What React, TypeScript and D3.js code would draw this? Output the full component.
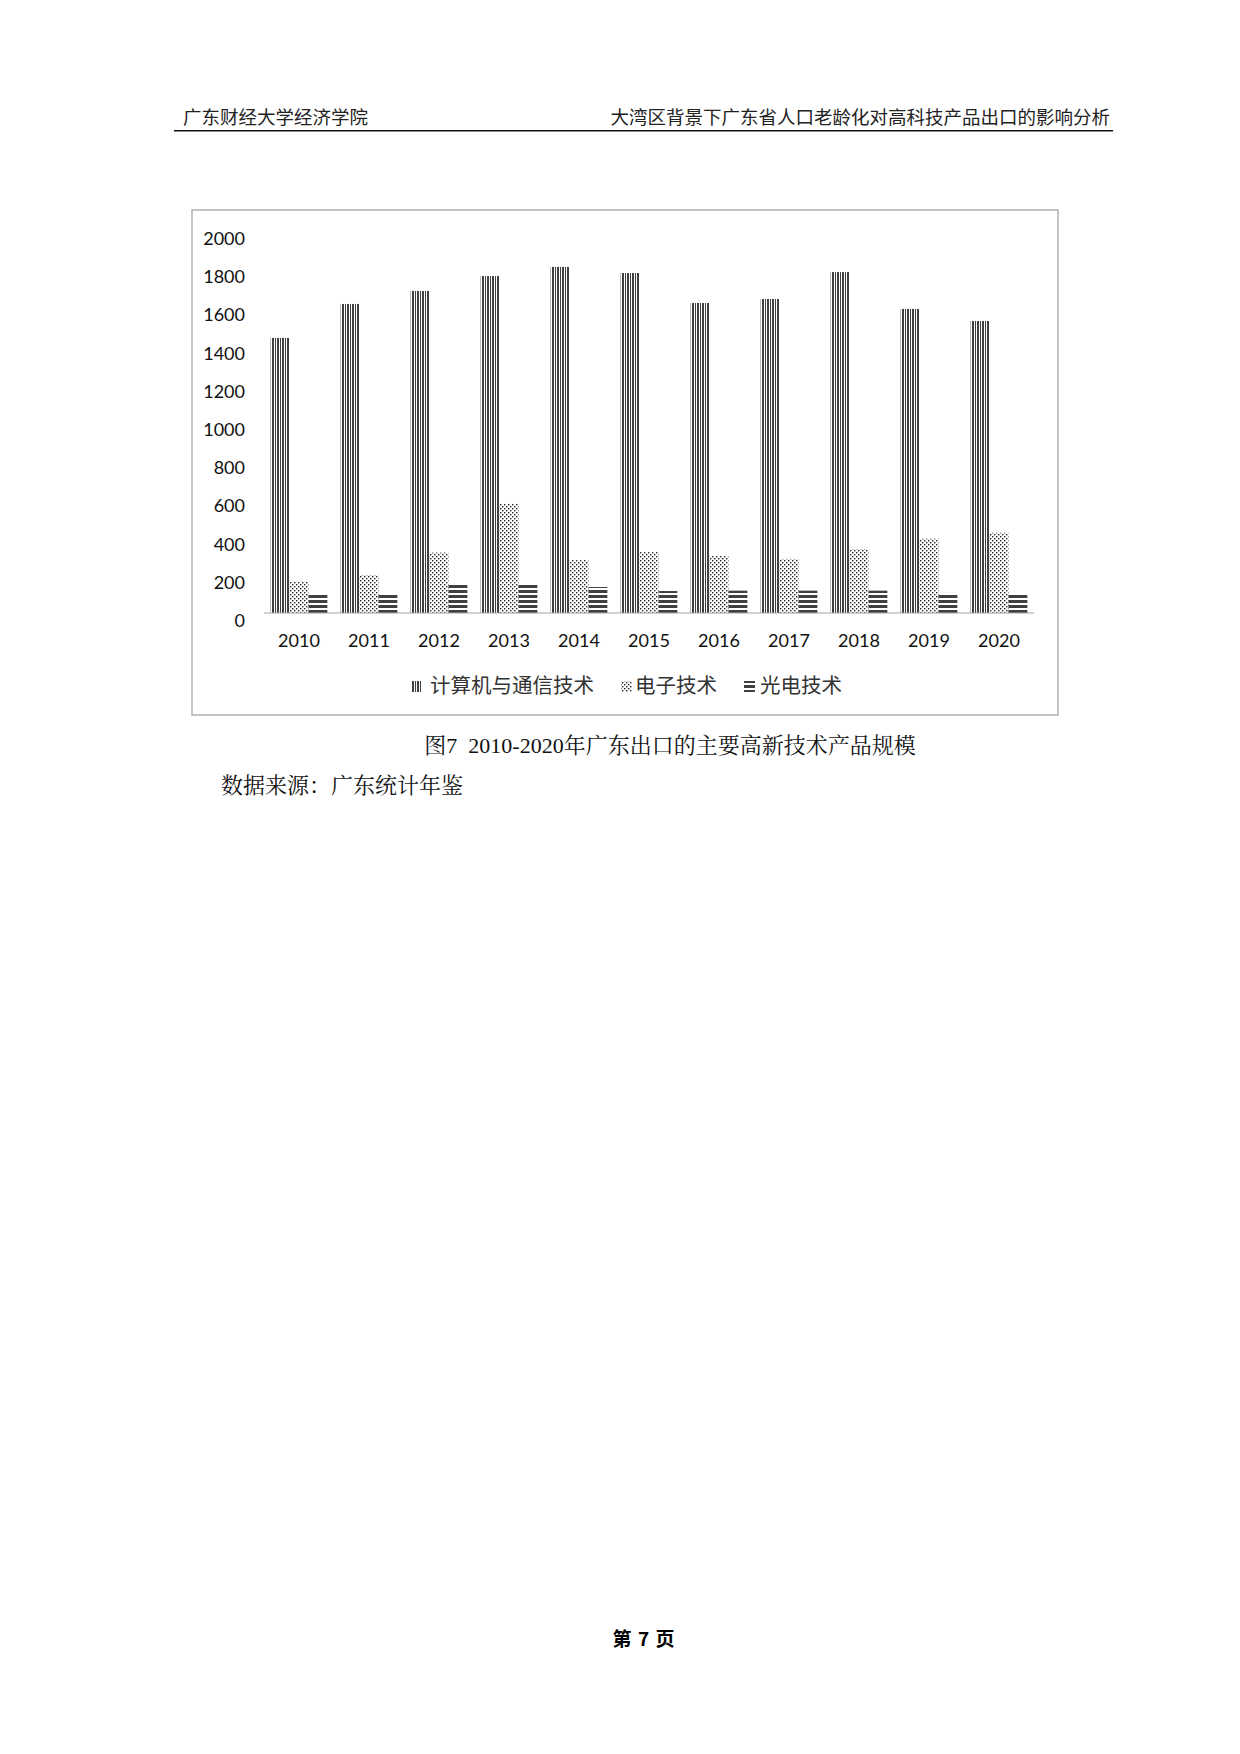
import React from 'react';
import * as d3 from 'd3';

// values (unit as in the source yearbook)
const years = ['2010', '2011', '2012', '2013', '2014', '2015', '2016', '2017', '2018', '2019', '2020'];
const computerComm = [1440, 1618, 1686, 1764, 1812, 1780, 1623, 1644, 1785, 1592, 1529];
const electronics = [164, 199, 316, 571, 277, 319, 298, 283, 334, 389, 420];
const optoelectronics = [99, 99, 148, 147, 136, 115, 117, 117, 117, 105, 99];
const seriesNames = ['计算机与通信技术', '电子技术', '光电技术'];

const headerLeft = '广东财经大学经济学院';
const headerRight = '大湾区背景下广东省人口老龄化对高科技产品出口的影响分析';
const caption = '图7 2010-2020年广东出口的主要高新技术产品规模';
const source = '数据来源：广东统计年鉴';
const pageNo = ['第', '7', '页'];

const W = 1240;
const H = 1754;
const INK = '#404040';
const CJK = "'Noto Sans CJK SC', 'Noto Sans', sans-serif";
const LATIN = "Lato, 'Noto Sans', sans-serif";
const SERIF = "'Liberation Serif', 'Noto Serif CJK SC', 'Noto Sans CJK SC', serif";

const App: React.FC = () => {
  const series = [computerComm, electronics, optoelectronics];
  const patterns = ['pat-vert', 'pat-dots', 'pat-horz'];

  const x = d3.scaleBand<string>()
    .domain(years)
    .range([264, 1034])
    .paddingInner(0.19)
    .paddingOuter(0.095);

  const xs = d3.scaleBand<number>()
    .domain([0, 1, 2])
    .range([0, x.bandwidth()]);

  const y = d3.scaleLinear().domain([0, 2000]).range([613, 231]);

  const legendItems = [
    { marker: 411, text: 430 },
    { marker: 621, text: 635 },
    { marker: 744, text: 760 },
  ];

  return (
    <svg width={W} height={H} style={{ position: 'absolute', left: 0, top: 0, background: '#fff' }}>
      <defs>
        <pattern id="pat-vert" patternUnits="userSpaceOnUse" width={5} height={4}>
          <rect x={0} y={0} width={1} height={4} fill={INK} shapeRendering="crispEdges" />
          <rect x={2} y={0} width={2} height={4} fill={INK} shapeRendering="crispEdges" />
        </pattern>
        <pattern id="pat-dots" patternUnits="userSpaceOnUse" width={4} height={4}>
          <rect x={0} y={0} width={1.4} height={1.4} fill="#222" />
          <rect x={2} y={2} width={1.4} height={1.4} fill="#222" />
        </pattern>
        <pattern id="pat-horz" patternUnits="userSpaceOnUse" width={4} height={5}>
          <rect x={0} y={0} width={4} height={3} fill={INK} shapeRendering="crispEdges" />
        </pattern>
      </defs>

      {/* page header */}
      <text x={183} y={115.5} fontFamily={CJK} fontSize={18.5} fill="#222" dominantBaseline="central">
        {headerLeft}
      </text>
      <text x={1110} y={115.5} fontFamily={CJK} fontSize={18.5} fill="#222" textAnchor="end" dominantBaseline="central">
        {headerRight}
      </text>
      <line x1={174} x2={1113} y1={130.7} y2={130.7} stroke="#111" strokeWidth={1.5} />

      {/* chart frame */}
      <rect x={192} y={210} width={866} height={505} fill="#fff" stroke="#a6a6a6" strokeWidth={1.3} />

      {/* y tick labels */}
      {y.ticks(10).map(t => (
        <text key={t} x={245} y={y(t) + 7} textAnchor="end" dominantBaseline="central"
          fontFamily={LATIN} fontSize={18} fill="#111">
          {t}
        </text>
      ))}

      {/* bars */}
      {series.map((vals, si) => (
        <g key={si} fill={`url(#${patterns[si]})`}>
          {vals.map((v, i) => (
            <rect key={years[i]}
              x={x(years[i])! + xs(si)!}
              y={y(v)}
              width={xs.bandwidth()}
              height={y(0) - y(v)} />
          ))}
        </g>
      ))}

      {/* category axis */}
      <line x1={264} x2={1034} y1={y(0)} y2={y(0)} stroke="#a6a6a6" strokeWidth={1.2} />
      {years.map(yr => (
        <text key={yr} x={x(yr)! + x.bandwidth() / 2} y={640} textAnchor="middle" dominantBaseline="central"
          fontFamily={LATIN} fontSize={18} fill="#111">
          {yr}
        </text>
      ))}

      {/* legend */}
      {seriesNames.map((name, si) => (
        <g key={name}>
          <rect x={legendItems[si].marker} y={681} width={11} height={11} fill={`url(#${patterns[si]})`} />
          <text x={legendItems[si].text} y={683.5} dominantBaseline="central"
            fontFamily={CJK} fontSize={20.5} fill="#333">
            {name}
          </text>
        </g>
      ))}

      {/* caption and source */}
      <text x={670} y={745} textAnchor="middle" dominantBaseline="central"
        fontFamily={SERIF} fontSize={22} fill="#111" style={{ whiteSpace: 'pre' }}>
        {caption.replace(' ', '  ')}
      </text>
      <text x={221} y={785} dominantBaseline="central"
        fontFamily={SERIF} fontSize={22} fill="#111">
        {source}
      </text>

      {/* page number */}
      {pageNo.map((s, i) => (
        <text key={i} x={622 + i * 21.5} y={1637} textAnchor="middle" dominantBaseline="central"
          fontFamily={CJK} fontWeight="bold" fontSize={19} fill="#000">
          {s}
        </text>
      ))}
    </svg>
  );
};

export default App;
